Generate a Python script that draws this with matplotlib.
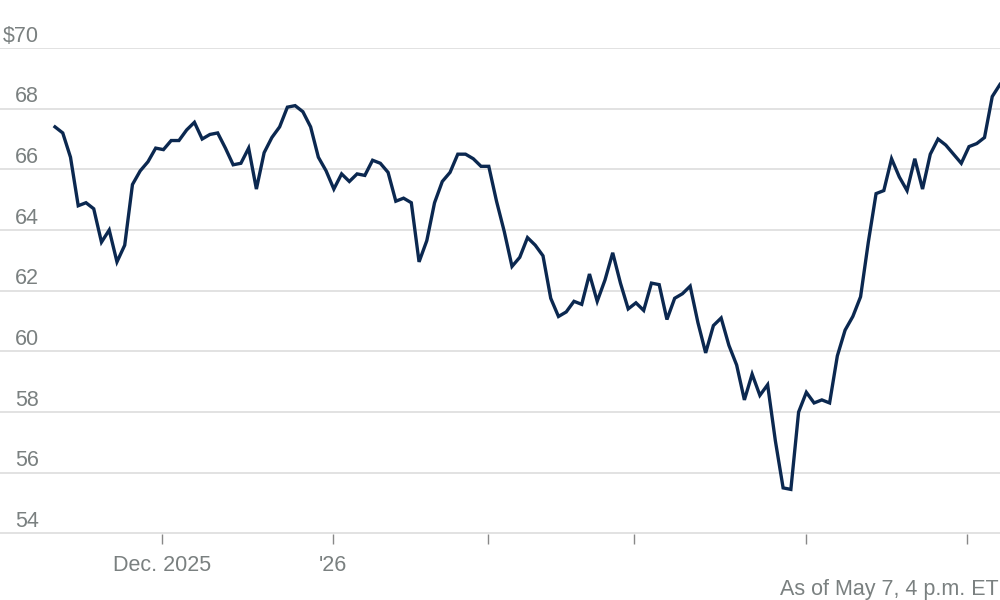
import matplotlib
matplotlib.use("Agg")
import matplotlib.pyplot as plt
import matplotlib.transforms as mtransforms

prices = [67.4,67.2,66.4,64.8,64.9,64.7,63.6,64.0,62.95,63.5,65.5,65.95,66.25,66.7,66.65,66.95,66.95,67.3,67.55,67.0,67.15,67.2,66.7,66.15,66.2,66.7,65.35,66.55,67.05,67.4,68.05,68.1,67.9,67.4,66.4,65.95,65.35,65.85,65.6,65.85,65.8,66.3,66.2,65.9,64.95,65.05,64.9,62.95,63.65,64.9,65.6,65.9,66.5,66.5,66.35,66.1,66.1,64.95,63.95,62.8,63.1,63.75,63.5,63.15,61.75,61.15,61.3,61.65,61.55,62.55,61.65,62.35,63.25,62.25,61.4,61.6,61.35,62.25,62.2,61.05,61.75,61.9,62.15,60.95,59.95,60.85,61.1,60.2,59.55,58.4,59.25,58.55,58.9,57.05,55.5,55.45,58.0,58.65,58.3,58.4,58.3,59.85,60.7,61.15,61.8,63.6,65.2,65.3,66.35,65.75,65.3,66.35,65.35,66.5,67.0,66.8,66.5,66.2,66.75,66.85,67.05,68.4,68.8]
y_ticks = [54,56,58,60,62,64,66,68,70]
y_labels = ["54","56","58","60","62","64","66","68","$70"]
x_tick_pos = [13.8,35.9,55.9,74.8,96.9,117.8]
x_tick_labels = ["Dec. 2025","'26","","","",""]

plt.rcParams['font.family'] = ['Liberation Sans','DejaVu Sans']
fig = plt.figure(figsize=(10,6), dpi=100)
ax = fig.add_axes([0,0.11,1,0.81])
n = len(prices)
xs = list(range(n))
ax.plot(xs, prices, color='#0b2850', lw=2.4, solid_joinstyle='miter', clip_on=False, zorder=3)
ax.set_ylim(53.98,70)
ax.set_xlim(-(n-1)*55/945, n-1)
ax.set_yticks(y_ticks)
ax.yaxis.grid(True, color='#dddddd', lw=1.2)
ax.tick_params(axis='y', left=False, labelleft=False)
for s in ax.spines.values():
    s.set_visible(False)
trans = mtransforms.blended_transform_factory(ax.transAxes, ax.transData) + \
    mtransforms.ScaledTranslation(0, 1/72, fig.dpi_scale_trans)
for v, l in zip(y_ticks, y_labels):
    ax.text(0.039, v, l, transform=trans, ha='right', va='bottom', fontsize=15.5,
            color='#7a8080')
ax.set_xticks(x_tick_pos)
ax.set_xticklabels(x_tick_labels, fontsize=15.5, color='#7a8080')
ax.tick_params(axis='x', length=7, color='#888888', pad=8, width=1)
fig.text(0.999, 0.0, "As of May 7, 4 p.m. ET", ha='right', va='bottom', fontsize=15.5, color='#7a8080')
fig.savefig("out.png", dpi=100, facecolor='white')
